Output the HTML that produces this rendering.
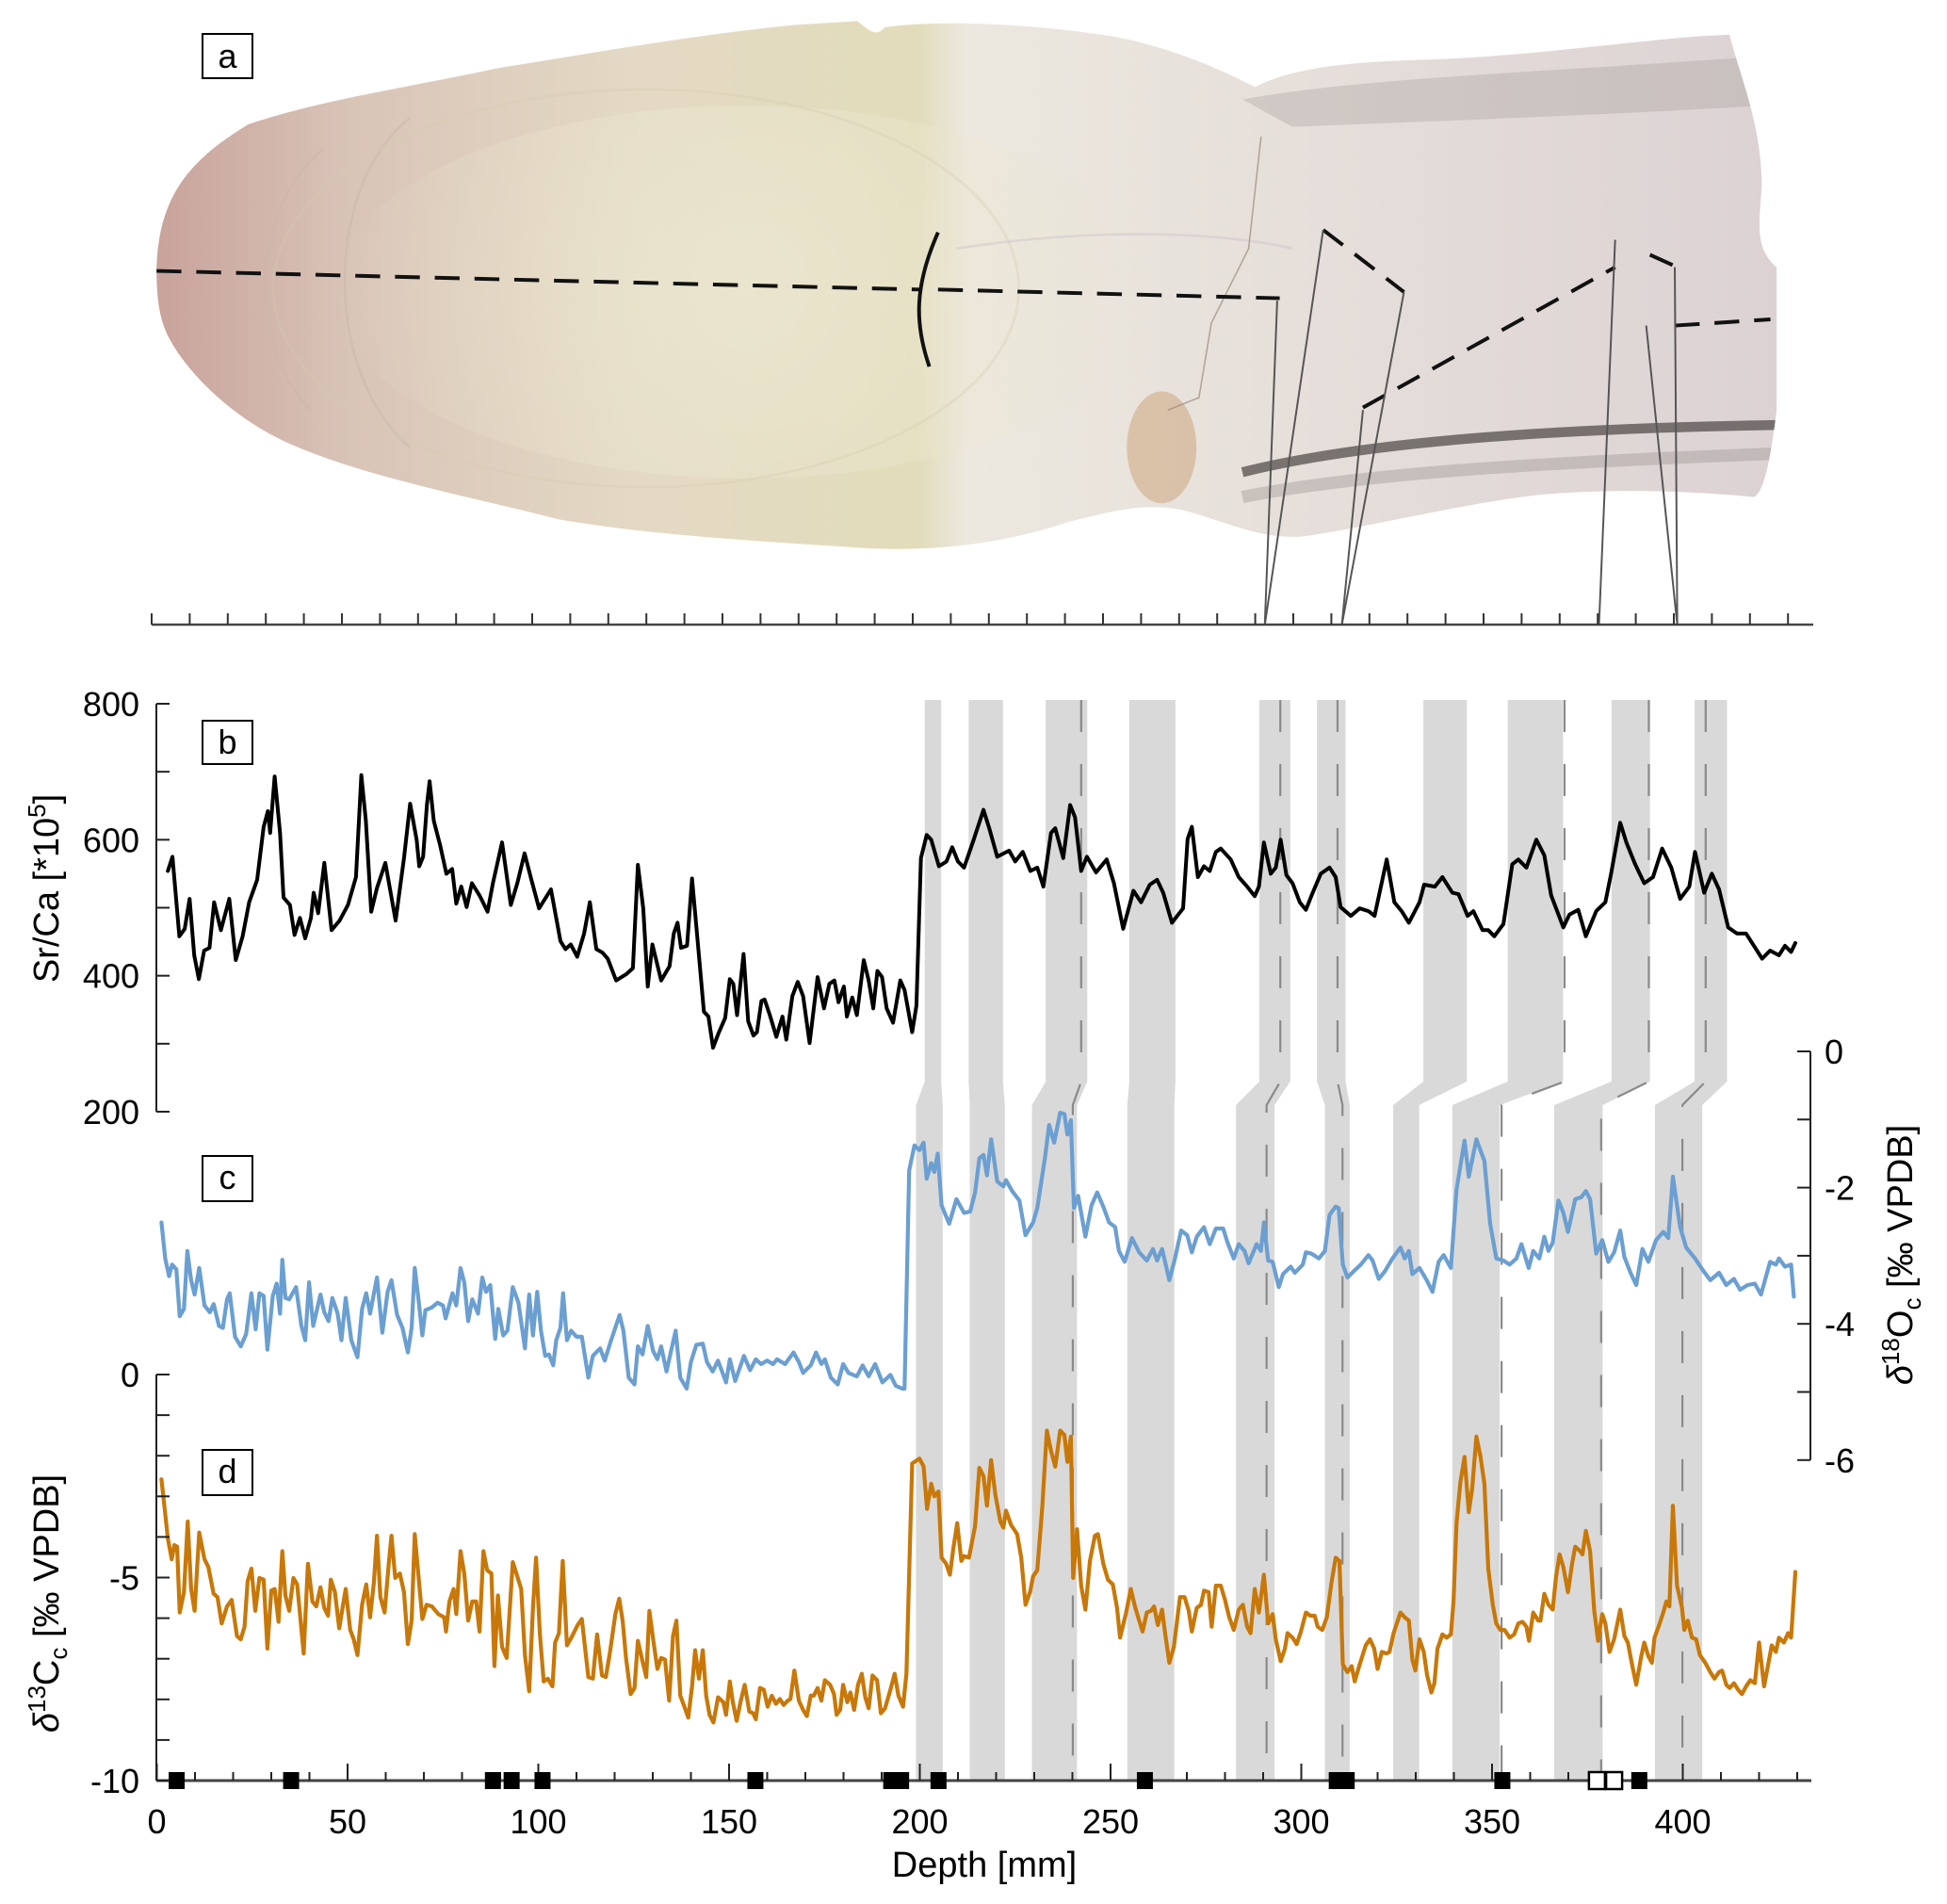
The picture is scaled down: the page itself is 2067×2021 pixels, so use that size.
<!DOCTYPE html>
<html><head><meta charset="utf-8">
<style>
html,body{margin:0;padding:0;background:#fff;}
svg{display:block;font-family:"Liberation Sans",Arial,sans-serif;}
</style></head>
<body>
<svg id="fig" xmlns="http://www.w3.org/2000/svg" width="2067" height="2021" viewBox="0 0 2067 2021">
<defs>
<linearGradient id="rockGrad" x1="126" y1="0" x2="1430" y2="0" gradientUnits="userSpaceOnUse">
<stop offset="0" stop-color="#c8a39b"/><stop offset="0.12" stop-color="#d9c4b8"/><stop offset="0.3" stop-color="#e4dac4"/><stop offset="0.47" stop-color="#e2dcbb"/><stop offset="0.5" stop-color="#ece8df"/><stop offset="0.7" stop-color="#e6dfda"/><stop offset="1" stop-color="#dcd2d4"/>
</linearGradient>
<radialGradient id="coreGrad" cx="600" cy="230" r="330" gradientUnits="userSpaceOnUse">
<stop offset="0" stop-color="#ebe6cf" stop-opacity="0.9"/><stop offset="1" stop-color="#ebe6cf" stop-opacity="0"/>
</radialGradient>
<clipPath id="rockClip"><path d="M126,215 C128,160 150,130 200,100 C260,80 330,70 400,55 C480,42 560,28 640,20 L690,17 C700,25 705,30 712,22 C760,15 840,20 900,30 C950,40 990,60 1010,70 C1040,55 1080,50 1150,48 C1250,44 1330,30 1392,28 C1400,60 1418,100 1418,150 C1416,180 1412,200 1430,215 L1430,330 C1425,370 1420,395 1412,400 C1360,395 1300,393 1240,398 C1180,405 1120,420 1060,430 C1020,438 990,420 950,410 C920,405 900,410 860,420 C800,440 740,445 680,440 C600,435 520,430 450,418 C380,400 300,385 240,360 C190,340 150,300 135,270 C128,255 126,240 126,215 Z"/></clipPath>
</defs>

<g transform="scale(1.319)">
  <path fill="url(#rockGrad)" d="M126,215 C128,160 150,130 200,100 C260,80 330,70 400,55 C480,42 560,28 640,20 L690,17 C700,25 705,30 712,22 C760,15 840,20 900,30 C950,40 990,60 1010,70 C1040,55 1080,50 1150,48 C1250,44 1330,30 1392,28 C1400,60 1418,100 1418,150 C1416,180 1412,200 1430,215 L1430,330 C1425,370 1420,395 1412,400 C1360,395 1300,393 1240,398 C1180,405 1120,420 1060,430 C1020,438 990,420 950,410 C920,405 900,410 860,420 C800,440 740,445 680,440 C600,435 520,430 450,418 C380,400 300,385 240,360 C190,340 150,300 135,270 C128,255 126,240 126,215 Z"/>
  <g clip-path="url(#rockClip)">
    <ellipse cx="600" cy="235" rx="330" ry="150" fill="url(#coreGrad)"/>
    <path d="M250,330 C200,280 200,170 260,120 M330,360 C260,300 260,150 330,95" fill="none" stroke="#c9b5a8" stroke-width="2" opacity="0.45"/>
    <ellipse cx="520" cy="232" rx="300" ry="160" fill="none" stroke="#d4cab0" stroke-width="2" opacity="0.35"/>
    <path d="M770,200 C900,180 1000,190 1040,200" fill="none" stroke="#cfc6cc" stroke-width="2" opacity="0.5"/>
    <path d="M1000,80 C1100,62 1250,58 1420,45 L1420,85 C1300,92 1150,98 1040,102 Z" fill="#9a9592" opacity="0.3"/>
    <path d="M1000,380 C1100,355 1250,345 1430,342" fill="none" stroke="#4a4543" stroke-width="8" opacity="0.7"/>
    <path d="M1000,400 C1100,380 1250,372 1430,365" fill="none" stroke="#9b9390" stroke-width="10" opacity="0.4"/>
    <ellipse cx="935" cy="360" rx="28" ry="45" fill="#c89a6a" opacity="0.45"/>
    <path d="M1015,110 L1005,200 L975,260 L965,320 L940,330" fill="none" stroke="#9a8a7a" stroke-width="1.2" opacity="0.7"/>
  </g>
  <g fill="none" stroke="#111" stroke-width="3" stroke-dasharray="20,12">
    <path d="M126,218 L740,233"/>
    <path d="M755,233 L1030,240"/>
    <path d="M1065,185 L1130,235"/>
    <path d="M1097,328 L1300,215"/>
    <path d="M1328,205 L1350,215"/>
    <path d="M1348,262 L1425,257"/>
  </g>
  <path d="M755,187 C736,230 736,260 748,295" fill="none" stroke="#111" stroke-width="3"/>
  <g stroke="#555" stroke-width="1.5">
    <line x1="1018" y1="503" x2="1028" y2="242"/><line x1="1018" y1="503" x2="1065" y2="185"/>
    <line x1="1080" y1="503" x2="1097" y2="330"/><line x1="1080" y1="503" x2="1130" y2="235"/>
    <line x1="1287" y1="503" x2="1300" y2="193"/><line x1="1350" y1="503" x2="1325" y2="262"/>
    <line x1="1350" y1="503" x2="1348" y2="215"/>
  </g>
</g>
<g id="photoAxis"></g>

<g><rect x="215" y="36" width="53" height="47" fill="none" stroke="#000" stroke-width="2"/><text x="241.5" y="72" font-size="36" text-anchor="middle">a</text></g>
<g><rect x="215" y="765" width="53" height="46" fill="none" stroke="#000" stroke-width="2"/><text x="241.5" y="800" font-size="36" text-anchor="middle">b</text></g>
<g><rect x="215" y="1227" width="53" height="48" fill="none" stroke="#000" stroke-width="2"/><text x="241.5" y="1262" font-size="36" text-anchor="middle">c</text></g>
<g><rect x="215" y="1539" width="53" height="48" fill="none" stroke="#000" stroke-width="2"/><text x="241.5" y="1574" font-size="36" text-anchor="middle">d</text></g>

<g id="bands"></g>
<g id="series"></g>
<g id="axes"></g>

<text transform="translate(62,943) rotate(-90)" font-size="38" text-anchor="middle">Sr/Ca [*10<tspan font-size="26" dy="-14">5</tspan><tspan dy="14">]</tspan></text>
<text transform="translate(62,1702) rotate(-90)" font-size="38" text-anchor="middle"><tspan font-style="italic">δ</tspan><tspan font-size="26" dy="-14">13</tspan><tspan dy="14">C</tspan><tspan font-size="26" dy="9">c</tspan><tspan dy="-9"> [‰ VPDB]</tspan></text>
<text transform="translate(2030,1332) rotate(-90)" font-size="38" text-anchor="middle"><tspan font-style="italic">δ</tspan><tspan font-size="26" dy="-14">18</tspan><tspan dy="14">O</tspan><tspan font-size="26" dy="9">c</tspan><tspan dy="-9"> [‰ VPDB]</tspan></text>
<text x="1045" y="1992" font-size="38" text-anchor="middle">Depth [mm]</text>
</svg>

<script>
const bDepth=[2.9,4.1,5.9,7.3,8.6,9.8,11,12.4,13.8,15,16.8,19,20.7,22.5,24.2,26.3,28,29.1,29.7,30.9,32.3,33.2,34.9,36.1,37.5,38.9,40.4,41.1,42.3,43.9,45.8,47.9,50.1,52.2,53.6,54.8,56.2,57.7,59.9,62.6,64.8,66.4,68.1,68.8,69.8,70.8,71.5,72.6,74.3,75.9,77.4,78.5,79.8,81.2,82.6,84.7,86.7,88.1,90.5,92.8,94.5,96.4,98.1,100.2,103.3,105.8,107.1,108.5,110.2,112,113.5,115.2,116.8,118.2,120.4,123,124.8,126.1,127.5,128.7,129.9,132.2,134.4,135.5,136.5,137.4,139,140.3,142.1,143.4,144.6,145.8,147.2,149,150.2,151.1,152.1,153.8,155,156.4,157.3,158.5,159.3,160.7,162.4,164,165,166.6,168,169.4,171.1,173.2,174.9,176.3,177.6,178.7,180.1,180.9,182.3,183.5,185.3,186.6,187.8,188.9,190.1,191.3,193,194.9,196,198,199.1,
200.3,201.8,203,205,207,208.5,210,211.6,214,216.7,218.2,220.3,223.4,225,227,229,230.8,232.4,234.4,235.5,237.6,239.4,240.7,242.3,243.8,246.2,249,250.9,253.3,256,258,260.3,262.2,263.8,266.1,269,270.2,271.3,272.9,274.5,276,277.6,278.9,281.5,283.6,285.8,287.8,288.9,290.2,292,293.3,294.6,296.1,297.7,299.6,301.2,302.7,305.1,307.4,309,310.3,313,315.3,317.6,319.2,322.4,324.4,326.3,328.2,331,332.2,335,337,339.6,341.2,343.6,345.1,347.5,349,350.6,353,355.3,356.9,359,361.6,363.7,365.5,368.7,370.3,372.6,374.6,377.3,379.7,381.2,383.6,385.2,387.5,389.9,392.2,394.6,397,399.3,401.7,403.2,405.6,407.6,409.5,411.9,414.2,416.6,418.9,420.8,422.9,425.2,426.8,428.4,429.5];
const bSrCa=[554,575,458,469,513,430,395,437,441,508,467,513,423,458,508,541,619,642,610,693,610,515,504,460,485,455,485,522,492,566,467,481,504,545,695,628,494,529,566,481,573,653,600,561,575,651,686,628,591,550,557,506,531,501,536,517,494,536,596,504,536,580,543,499,527,451,439,446,428,462,508,439,434,425,393,402,411,563,499,384,446,393,414,462,478,441,444,543,430,347,340,294,315,338,395,388,342,432,333,312,317,363,365,342,310,340,306,370,391,370,301,398,352,388,393,361,384,340,368,342,423,393,352,407,398,352,331,393,379,317,356,
573,607,600,561,568,589,568,559,598,644,617,575,584,568,582,554,559,531,610,617,573,651,633,554,575,552,571,536,469,525,508,534,541,522,478,499,601,619,545,561,554,582,587,571,545,531,517,531,596,550,559,600,548,536,508,497,518,550,559,545,501,488,499,495,488,571,508,495,478,508,534,531,545,522,520,488,495,467,467,458,476,564,571,559,600,577,518,471,490,497,458,495,508,550,625,596,564,536,545,587,559,513,531,582,522,550,527,471,462,462,442,425,437,430,444,435,448];

const cDepth=[1.2,2.2,3.2,4,5.1,6,7.1,8,9,9.9,11.1,12.5,13.9,14.9,16.3,17.3,18.4,19.1,20.5,22,23.4,24.8,25.9,26.9,28,29,30.4,31.4,32.3,32.9,33.7,34.7,36.5,37.9,38.9,39.9,41,42.9,43.9,45,46,47.4,48.4,49.5,51,52.6,53.8,54.9,55.9,57.7,59.1,60.5,61.5,63,64.4,65.8,66.8,67.6,68.6,69.6,70.4,72.1,73.6,75,75.7,77.5,78.5,79.6,80.6,81.6,82.7,84.2,85.3,86.3,87.4,88.7,89.5,90.8,91.9,93.3,94.8,96.5,97.6,98.6,99.7,100.7,101.8,102.8,103.9,104.7,105.8,106.5,107.5,108.6,110,111.4,113.1,114.3,116.2,117.4,118.8,121.3,122.3,123.7,125.2,126.1,127.3,128.7,130.1,131.2,132.2,133.6,134.8,136,137.2,138.9,140,141.4,143.1,144.2,145.7,147.1,149.2,150.2,151.6,153.9,155.5,157,158.4,160,161.5,162.6,164.7,166.9,168.3,169.4,171.4,172.8,174.2,175.1,176.7,178.5,179.9,181.3,183.5,185,186.6,188.3,190.2,192.3,193.7,195.4,196,
197.2,198.6,199.9,201,201.8,203,203.8,204.7,205.7,207.7,209.6,211.6,213.2,214.5,215.6,216.7,217.6,218.7,220.3,221.9,222.6,224.2,226.1,227.7,229.7,230.8,232.8,233.9,235.2,236.8,237.9,238.7,239.6,240.4,241.5,243.4,245,246.5,248.1,249.6,251.2,252.2,253.7,255.6,257.5,259.5,261.1,262.2,263.5,265.4,266.9,268.5,270.1,271.3,272.6,274.5,276,277.6,279.5,280.7,282.3,283.6,285.1,286.2,288.3,289.4,290.2,291.3,292.5,294.1,295.2,297.2,298.3,300.4,301.2,302.7,304.6,306.2,307.4,309,309.8,310.9,312.1,313.7,315.6,317.6,318.7,320.3,321.9,323.9,326,327.1,328.2,329.1,331,332.9,334.4,336,337.3,339.2,340.7,342.8,343.9,345.9,348,349.5,351.1,353,354.6,356.4,357.7,359.6,360.8,362.4,363.7,364.8,365.9,367.4,368.7,369.9,371.8,373.4,374.6,375.7,377.3,378.9,380.5,382,383.6,384.7,386.3,387.8,389.4,391,393,394.9,396.2,397.4,399.3,400.9,403.2,405.1,407.2,409.5,411.4,413.4,415,417,418.9,420.5,422.9,424.4,425.2,426.8,428.4,429.1];
const cD18O=[-2.51,-3.04,-3.3,-3.13,-3.2,-3.89,-3.78,-2.93,-3.36,-3.57,-3.18,-3.73,-3.83,-3.71,-4.03,-4.06,-3.64,-3.55,-4.19,-4.33,-4.15,-3.55,-4.08,-3.55,-3.59,-4.38,-3.59,-3.41,-3.85,-3.06,-3.62,-3.64,-3.46,-4.03,-4.24,-3.39,-4.03,-3.57,-3.83,-3.96,-3.62,-3.85,-4.24,-3.62,-4.24,-4.49,-3.78,-3.55,-3.85,-3.32,-4.13,-3.53,-3.36,-3.87,-4.06,-4.42,-4.06,-3.18,-3.64,-4.17,-3.8,-3.76,-3.69,-3.73,-3.92,-3.55,-3.73,-3.18,-3.39,-3.96,-3.64,-3.85,-3.32,-3.53,-3.43,-4.22,-3.78,-4.17,-4.1,-3.46,-3.69,-4.36,-3.57,-4.17,-3.53,-4.1,-4.47,-4.45,-4.61,-4.24,-4.06,-3.55,-4.24,-4.1,-4.19,-4.19,-4.79,-4.47,-4.36,-4.54,-4.29,-3.87,-4.1,-4.79,-4.89,-4.33,-4.45,-4.03,-4.4,-4.52,-4.33,-4.7,-4.4,-4.1,-4.79,-4.95,-4.56,-4.31,-4.29,-4.56,-4.7,-4.54,-4.86,-4.52,-4.84,-4.47,-4.68,-4.52,-4.59,-4.54,-4.59,-4.52,-4.59,-4.42,-4.56,-4.72,-4.61,-4.42,-4.59,-4.52,-4.79,-4.89,-4.59,-4.72,-4.77,-4.61,-4.77,-4.59,-4.86,-4.75,-4.91,-4.95,-4.95,
-1.75,-1.38,-1.45,-1.34,-1.87,-1.64,-1.77,-1.5,-2.26,-2.53,-2.17,-2.37,-2.35,-2.07,-1.57,-1.52,-1.82,-1.29,-1.91,-1.98,-1.89,-2.05,-2.19,-2.7,-2.51,-2.3,-1.57,-1.08,-1.34,-0.9,-0.92,-1.22,-1.01,-2.3,-2.12,-2.72,-2.26,-2.07,-2.28,-2.51,-2.58,-2.93,-3.09,-2.74,-2.95,-3.07,-2.9,-3.07,-2.9,-3.36,-3.04,-2.63,-2.7,-2.95,-2.72,-2.58,-2.83,-2.6,-2.6,-2.81,-3.04,-2.83,-2.93,-3.11,-2.83,-2.93,-2.51,-3.07,-3.09,-3.46,-3.27,-3.16,-3.25,-3.13,-2.95,-2.97,-3.04,-2.93,-2.4,-2.28,-2.3,-3.13,-3.32,-3.23,-3.13,-2.99,-3.07,-3.34,-3.23,-3.04,-2.88,-3.04,-2.93,-3.27,-3.18,-3.36,-3.53,-3.09,-2.99,-3.18,-2.03,-1.31,-1.84,-1.29,-1.61,-2.53,-3.04,-3.07,-3.13,-3.04,-2.83,-3.18,-2.93,-3.04,-2.72,-2.93,-2.81,-2.19,-2.37,-2.65,-2.17,-2.14,-2.05,-2.17,-2.97,-2.77,-3.09,-2.95,-2.63,-3.02,-3.25,-3.43,-2.9,-3.09,-2.77,-2.65,-2.74,-1.84,-2.58,-2.88,-3.04,-3.2,-3.36,-3.25,-3.43,-3.34,-3.5,-3.43,-3.41,-3.57,-3.09,-3.13,-3.04,-3.16,-3.13,-3.6];

const dDepth=[1.2,2.2,2.9,3.9,4.6,5.3,6,7.1,8.1,9,9.9,11.1,12.5,13.5,14.9,15.9,17,18.4,19.6,21,22,23,23.8,24.8,25.8,26.9,28,29,30,30.9,31.9,32.9,33.7,34.7,35.8,36.8,38.5,39.6,40.8,41.8,42.9,43.9,44.9,45.6,46.7,47.8,49.5,50.7,51.6,52.6,53.8,54.9,55.9,56.9,57.7,58.6,59.7,60.8,61.5,62.5,63.7,64.8,65.8,66.8,67.6,68.6,69.6,70.7,72.1,73.8,75.3,75.8,76.7,77.8,78.5,79.6,80.6,81.6,82.7,83.7,84.6,85.6,86.6,87.7,88.5,89.4,90.5,91.7,93.3,94.5,95.5,96.5,97.6,98.6,99.4,100.4,101.4,102.5,103.7,104.4,105.4,106.4,107.5,108.9,110.3,111.4,113.1,114.3,115.4,116.7,117.7,118.8,120.2,121.2,122.1,123,124.2,125.2,126.1,127.3,128.3,129.1,130.1,131.2,132.2,133.2,134.3,135.3,136.2,137.2,138.3,139.3,140.3,141.1,142.1,143.1,144,144.9,145.9,147.1,148.5,149.2,150.2,151,152,153,154.1,155.3,156.3,157,158.1,159.1,160.1,161.2,162.3,163.3,164.3,165.4,166.1,167.1,168.3,169.4,170.4,171.4,172.2,173.2,174.2,175.1,176.5,177.5,178.2,179.1,179.9,181,181.8,182.8,183.8,184.8,185.7,186.6,187.6,188.8,189.8,190.9,192.3,193.4,194.4,195.6,196.5,
198,199.9,201,201.9,203,203.8,204.9,205.7,206.9,207.9,208.8,209.8,210.9,211.6,212.9,214.5,215.6,216.7,217.6,218.7,219.8,221.1,221.9,222.6,223.9,225.5,226.6,227.7,228.9,229.7,230.8,232.1,233.3,234.4,235.5,236.8,237.9,238.7,239.6,240.2,241.2,242.3,243.4,244.6,245.9,246.7,248.1,249.3,250.6,251.7,252.5,254,255.3,256.4,257.5,258.4,259.5,260.6,261.4,262.4,263.5,264.3,265.4,266.6,268.2,269.4,270.5,271.3,272.6,273.7,274.5,275.7,276.5,277.6,278.9,280,281.1,282.3,283.6,284.7,285.8,286.7,287.8,288.9,290.2,291.3,292.5,293.3,294.6,295.7,296.4,297.7,298.8,299.9,301.2,302.4,303.5,304.3,305.5,306.7,307.9,309,310,310.9,312.1,313.2,314,315.3,316.9,318,319.1,320,321.1,322.4,323.1,324.2,326,327.1,328.2,329.1,329.9,331,332.1,333,334.1,334.9,335.7,337,338.1,339.2,339.9,340.7,341.7,342.8,343.9,344.8,345.9,347,348,349,350.2,351.1,352.2,353.3,354.6,355.8,356.9,358,359,359.7,360.8,362.1,362.7,363.7,364.8,365.9,366.8,367.7,368.7,369.9,371,371.8,373.1,373.7,374.6,375.7,376.8,377.8,378.9,379.7,380.8,382,383.6,384.7,385.6,386.7,387.8,389.1,389.9,391,391.9,392.6,393.8,394.9,395.7,396.5,397.4,398.5,399.8,400.4,401.3,402.4,403.5,404.5,405.9,407.2,408.3,409.5,410.3,411.4,412.3,413.4,414.5,415.5,416.6,417.7,418.9,420,421.3,422.4,423.3,424.4,425.2,426.5,427.6,428.4,429.5];
const dD13C=[-2.58,-3.43,-4.04,-4.55,-4.2,-4.24,-5.86,-5.36,-3.62,-5.28,-5.82,-3.89,-4.55,-4.74,-5.4,-5.48,-6.13,-5.71,-5.55,-6.44,-6.52,-6.21,-5.09,-4.78,-5.82,-5.01,-5.05,-6.75,-5.32,-5.28,-6.09,-4.35,-5.44,-5.82,-5.01,-5.17,-6.87,-4.66,-5.59,-5.71,-5.24,-5.75,-5.94,-5.05,-5.36,-6.25,-5.28,-6.29,-6.52,-6.91,-5.67,-5.17,-5.98,-5.13,-3.97,-5.48,-5.86,-4.66,-3.97,-5.01,-4.9,-5.36,-6.64,-6.06,-3.93,-4.97,-6.02,-5.67,-5.71,-5.9,-5.98,-6.33,-5.59,-5.28,-5.9,-4.35,-4.9,-6.06,-5.59,-5.59,-6.33,-4.35,-4.82,-4.9,-7.18,-5.44,-6.71,-6.98,-4.62,-4.97,-5.28,-6.91,-7.8,-5.75,-4.51,-6.37,-7.56,-7.49,-7.68,-6.6,-6.37,-4.59,-6.67,-6.44,-6.17,-6.02,-7.45,-7.49,-6.4,-7.41,-7.45,-6.83,-5.9,-5.52,-6.06,-6.98,-7.87,-7.72,-6.56,-7.06,-7.45,-5.82,-6.52,-7.25,-6.98,-7.02,-8.03,-6.44,-6.06,-7.91,-8.18,-8.45,-7.68,-6.79,-7.49,-6.79,-7.91,-8.38,-8.57,-7.95,-8.07,-8.38,-7.56,-8.07,-8.53,-8.07,-7.64,-8.3,-8.34,-8.49,-7.72,-7.76,-8.18,-7.91,-8.11,-7.99,-8.14,-8.03,-7.99,-7.29,-8.03,-8.26,-8.41,-7.91,-7.91,-7.72,-8.03,-7.53,-7.64,-7.87,-8.38,-8.26,-7.64,-8.07,-7.83,-8.26,-7.64,-7.37,-7.95,-8.22,-7.41,-7.53,-8.34,-8.22,-7.76,-7.37,-7.91,-8.18,-7.37,
-2.19,-2.07,-2.26,-3.31,-2.69,-3,-2.88,-4.51,-4.66,-4.93,-4.28,-3.66,-4.59,-4.47,-4.51,-3.73,-2.3,-2.5,-3.23,-2.11,-2.96,-3.62,-3.77,-3.35,-3.7,-3.93,-4.51,-5.67,-5.36,-4.97,-4.82,-3.27,-1.38,-1.88,-2.27,-1.38,-1.49,-2.15,-1.53,-5.01,-3.81,-5.2,-5.79,-4.59,-3.97,-3.93,-4.66,-5.05,-5.17,-5.75,-6.48,-5.9,-5.28,-5.71,-6.06,-6.33,-5.86,-5.82,-5.71,-6.17,-5.79,-6.37,-7.1,-6.71,-5.48,-5.48,-5.82,-6.33,-5.75,-5.67,-5.32,-5.36,-6.21,-5.2,-5.2,-5.55,-5.98,-6.29,-5.79,-5.67,-6.21,-6.37,-5.28,-5.86,-4.93,-6.13,-5.9,-6.52,-7.06,-6.75,-6.37,-6.48,-6.64,-6.33,-5.86,-5.94,-5.94,-6.21,-6.29,-5.98,-5.13,-4.51,-4.59,-7.14,-7.33,-7.18,-7.56,-7.14,-6.67,-6.52,-6.75,-7.25,-6.83,-6.87,-6.83,-6.37,-5.86,-5.98,-6.06,-7.02,-7.29,-6.52,-6.83,-7.41,-7.83,-7.6,-6.75,-6.4,-6.48,-6.4,-5.59,-3.66,-2.65,-2.03,-3.39,-2.81,-1.53,-2.03,-2.69,-4.78,-5.67,-6.13,-6.29,-6.29,-6.48,-6.4,-6.13,-6.09,-6.21,-6.56,-5.86,-6.06,-6.06,-5.4,-5.67,-5.79,-4.97,-4.43,-4.74,-5.36,-4.66,-4.24,-4.35,-4.43,-3.85,-4.35,-5.82,-6.56,-5.9,-6.13,-6.83,-6.52,-5.79,-6.44,-6.6,-7.14,-7.64,-6.94,-6.6,-6.94,-7.1,-6.48,-6.17,-5.86,-5.59,-5.71,-3.23,-5.2,-5.75,-6.29,-6.06,-6.48,-6.52,-6.91,-7.1,-7.33,-7.49,-7.33,-7.29,-7.64,-7.72,-7.6,-7.76,-7.87,-7.68,-7.53,-7.6,-6.6,-7.68,-7.14,-6.67,-6.83,-6.48,-6.6,-6.37,-6.48,-4.86];

const bandTopStart=[201.3,212.8,233.0,254.9,289.0,304.1,332.0,354.1,381.3,403.1];
const bandTopEnd=[205.6,221.8,243.9,267.0,297.1,311.6,343.4,368.6,391.4,411.6];
const bandBotStart=[199.0,213.1,229.4,254.4,282.9,306.2,324.1,339.6,366.3,392.7];
const bandBotEnd=[206.0,222.3,241.2,266.7,293.0,312.7,330.9,352.0,379.0,405.1];
const tieTop=[242.3,294.5,309.5,369.0,391.1,406.0];
const tieBot=[240.1,290.9,310.8,352.5,378.6,399.9];
const datedDepths=[5.2,35.2,88.1,93,101.1,156.9,192.5,195.1,204.9,259,309.3,311.9,352.7,388.6];
const rejectedDepths=[377.5,382];
const xTickLabels=[0,50,100,150,200,250,300,350,400];
const srTickLabels=[800,600,400,200];
const d18TickLabels=[0,-2,-4,-6];
const d13TickLabels=[0,-5,-10];

const NS='http://www.w3.org/2000/svg';
const X=d=>166.5+4.05*d;
const YB=v=>747+(800-v)*0.7217;
const YC=v=>1116-v*72.3;
const YD=v=>1459-v*43.1;
const BAND_TOP=743, BEND1=1148, BEND2=1173, AX_BOTTOM=1890;

function mk(tag,attrs,parent){const e=document.createElementNS(NS,tag);for(const k in attrs)e.setAttribute(k,attrs[k]);parent.appendChild(e);return e;}
const bandsG=document.getElementById('bands');
const seriesG=document.getElementById('series');
const axesG=document.getElementById('axes');
const photoG=document.getElementById('photoAxis');

for(let i=0;i<bandTopStart.length;i++){
  const pts=[[X(bandTopStart[i]),BAND_TOP],[X(bandTopEnd[i]),BAND_TOP],[X(bandTopEnd[i]),BEND1],[X(bandBotEnd[i]),BEND2],[X(bandBotEnd[i]),AX_BOTTOM],[X(bandBotStart[i]),AX_BOTTOM],[X(bandBotStart[i]),BEND2],[X(bandTopStart[i]),BEND1]];
  const p=mk('polygon',{points:pts.map(q=>q.join(',')).join(' '),fill:'#d9d9d9'},bandsG);
  
  
}
for(let i=0;i<tieTop.length;i++){
  const d='M'+X(tieTop[i])+','+BAND_TOP+' L'+X(tieTop[i])+','+BEND1+' L'+X(tieBot[i])+','+BEND2+' L'+X(tieBot[i])+','+AX_BOTTOM;
  const p=mk('path',{d:d,fill:'none',stroke:'#8a8a8a','stroke-width':2.2,'stroke-dasharray':'34,34'},bandsG);
  
  
}

function line(xs,ys,fy,color,w,name){
  let d='';for(let i=0;i<xs.length;i++){d+=(i?'L':'M')+X(xs[i]).toFixed(1)+','+fy(ys[i]).toFixed(1);}
  const p=mk('path',{d:d,fill:'none',stroke:color,'stroke-width':w,'stroke-linejoin':'round','stroke-linecap':'round'},seriesG);
  
  
}
line(bDepth,bSrCa,YB,'#000',4,'srca-line');
line(cDepth,cD18O,YC,'#6b9fd1',4.2,'d18o-line');
line(dDepth,dD13C,YD,'#c87808',4.2,'d13c-line');

const ax={stroke:'#222','stroke-width':2};
const xl=mk('line',{x1:166,y1:AX_BOTTOM,x2:1923,y2:AX_BOTTOM,stroke:'#444','stroke-width':3},axesG);


for(let d=0;d<=430;d+=10){
  const len=(d%50===0)?18:9;
  const t=mk('line',Object.assign({x1:X(d),x2:X(d),y1:AX_BOTTOM,y2:AX_BOTTOM-len},ax),axesG);
  
  
}
xTickLabels.forEach(v=>{
  const t=mk('text',{x:X(v),y:1946,'font-size':36,'text-anchor':'middle'},axesG);
  t.textContent=v;
  
  
});
datedDepths.forEach(d=>{
  const r=mk('rect',{x:X(d)-8.5,y:AX_BOTTOM-9,width:17,height:18,fill:'#000'},axesG);
  
  
});
rejectedDepths.forEach(d=>{
  const r=mk('rect',{x:X(d)-8.5,y:AX_BOTTOM-9,width:17,height:18,fill:'#fff',stroke:'#000','stroke-width':2.5},axesG);
  
  
});
const by=mk('line',Object.assign({x1:166,x2:166,y1:YB(800),y2:YB(200)},ax),axesG);


for(let v=200;v<=800;v+=100){
  const t=mk('line',Object.assign({x1:166,x2:180,y1:YB(v),y2:YB(v)},ax),axesG);
  
  
}
srTickLabels.forEach(v=>{
  const t=mk('text',{x:148,y:YB(v)+13,'font-size':36,'text-anchor':'end'},axesG);
  t.textContent=v;
  
  
});
const cy=mk('line',Object.assign({x1:1922,x2:1922,y1:YC(0),y2:YC(-6)},ax),axesG);


for(let v=0;v>=-6;v--){
  const t=mk('line',Object.assign({x1:1908,x2:1922,y1:YC(v),y2:YC(v)},ax),axesG);
  
  
}
d18TickLabels.forEach(v=>{
  const t=mk('text',{x:1937,y:YC(v)+13,'font-size':36,'text-anchor':'start'},axesG);
  t.textContent=v;
  
  
});
const dy=mk('line',Object.assign({x1:166,x2:166,y1:YD(0),y2:YD(-10)},ax),axesG);


for(let v=0;v>=-10;v--){
  const t=mk('line',Object.assign({x1:166,x2:180,y1:YD(v),y2:YD(v)},ax),axesG);
  
  
}
d13TickLabels.forEach(v=>{
  const t=mk('text',{x:148,y:YD(v)+13,'font-size':36,'text-anchor':'end'},axesG);
  t.textContent=v;
  
  
});
const pa=mk('line',{x1:161,y1:663,x2:1925,y2:663,stroke:'#444','stroke-width':2.5},photoG);


for(let i=0;i<=43;i++){
  const t=mk('line',{x1:161+40.4*i,x2:161+40.4*i,y1:663,y2:651,stroke:'#333','stroke-width':2},photoG);
  
  
}
</script>
</body></html>
